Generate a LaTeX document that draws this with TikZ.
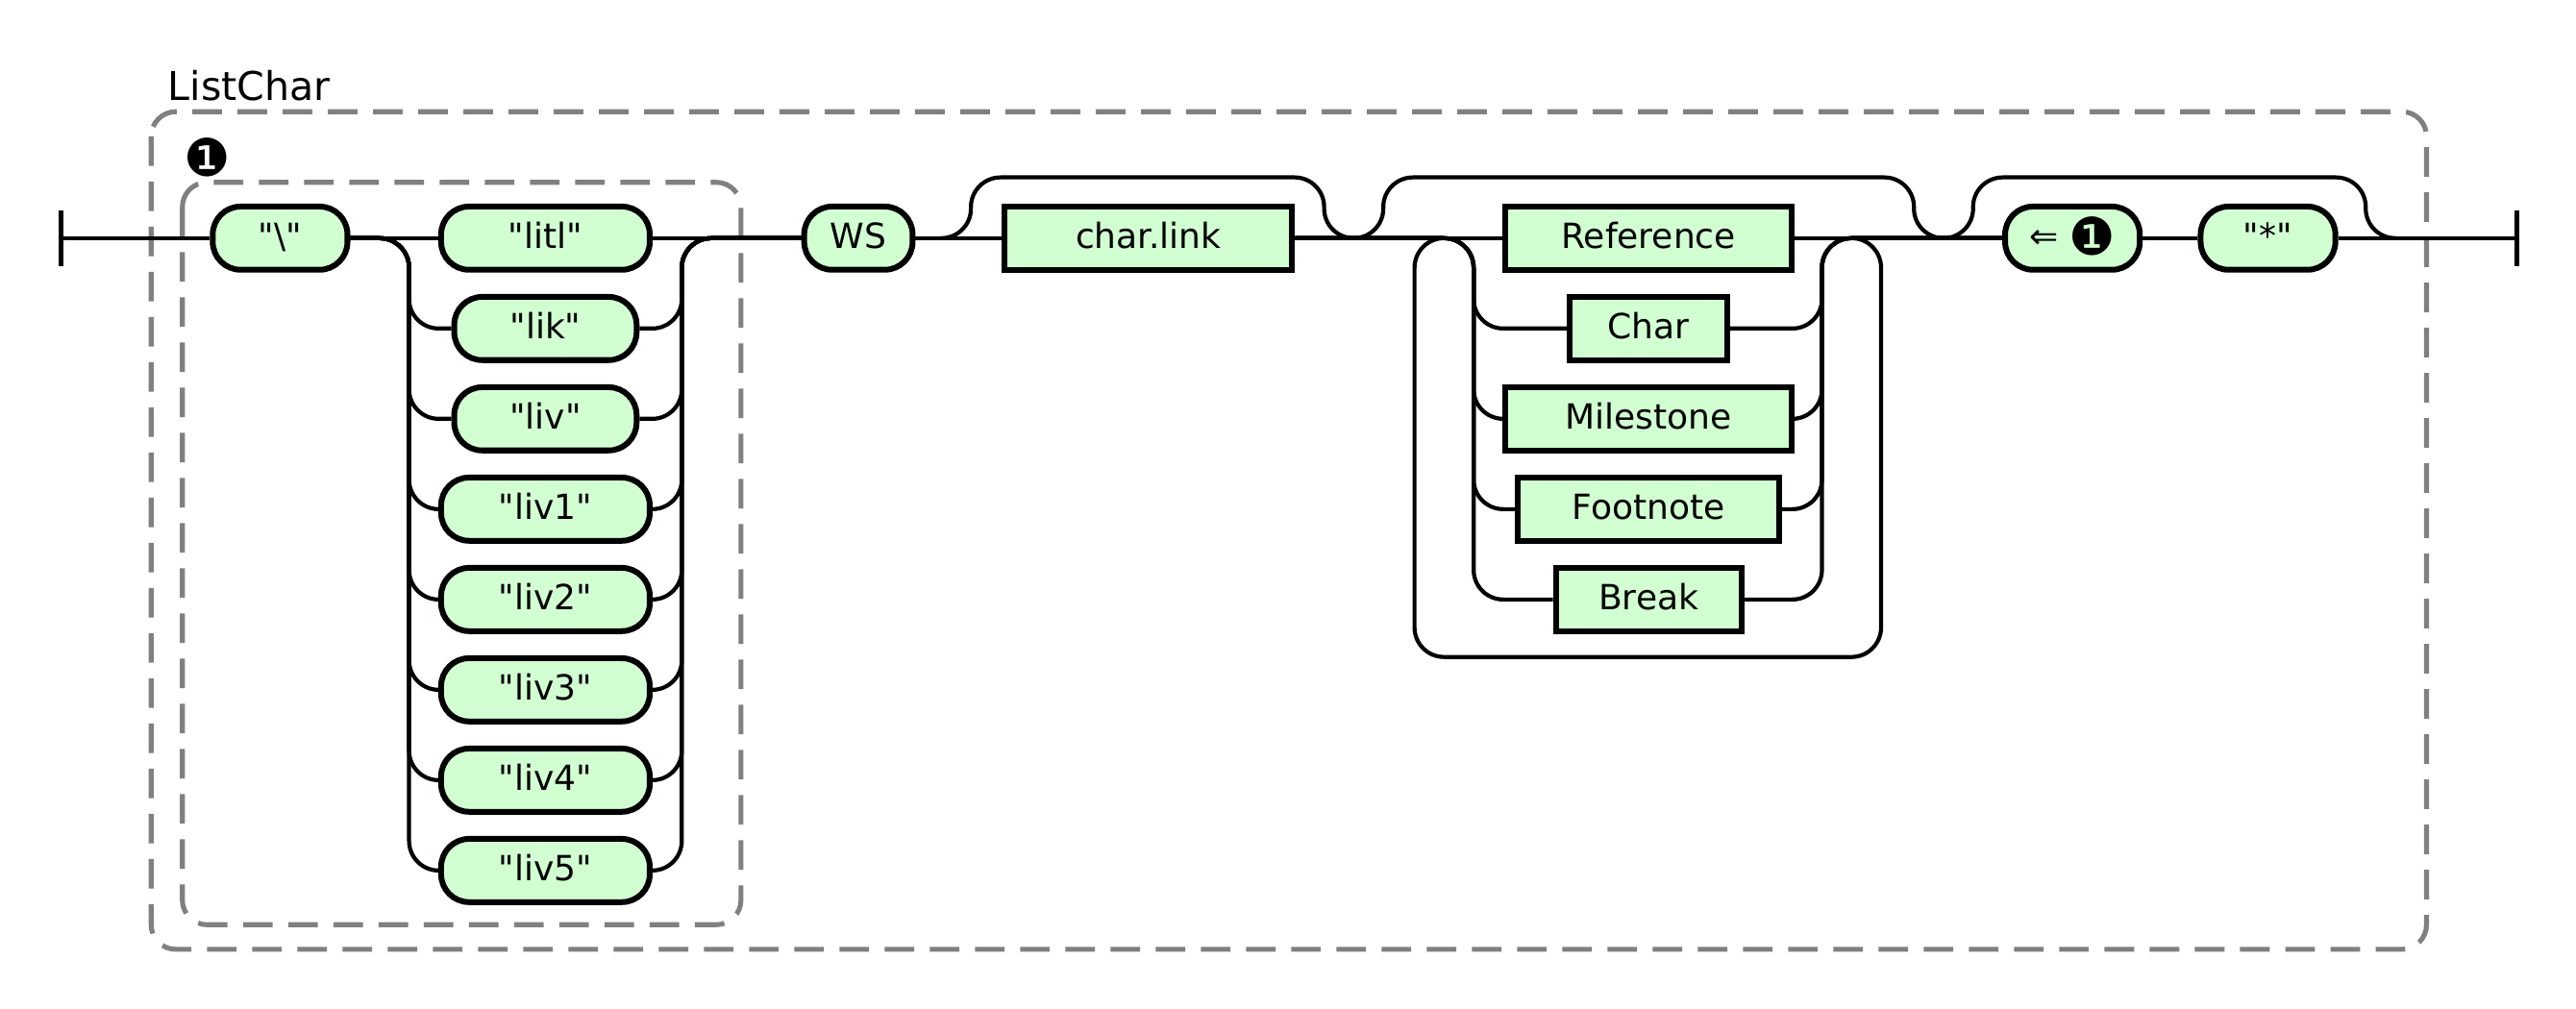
\documentclass[tikz,border=0pt]{standalone}
\usepackage{fontspec}
\setmainfont{DejaVu Sans}[Ligatures=TeXOff]
\definecolor{rrgreen}{RGB}{210,255,210}
\definecolor{rrgray}{RGB}{128,128,128}
\newcommand{\rrmark}{{\fontsize{18pt}{18pt}\selectfont ❶}}
\begin{document}
\begin{tikzpicture}[
  x=0.2mm, y=-0.2mm,
  font=\fontsize{12pt}{14pt}\selectfont,
  term/.style={draw, line width=2pt, fill=rrgreen, rounded corners=3.4mm, minimum height=7.7mm, inner sep=0pt, text height=0.73em, text depth=0pt},
  nterm/.style={draw, line width=2pt, fill=rrgreen, minimum height=7.7mm, inner sep=0pt, text height=0.73em, text depth=0pt},
  wd/.style={minimum width=#1*0.2mm},
  rail/.style={line width=1.4pt, rounded corners=3.6mm},
  bar/.style={line width=1.7pt},
  group/.style={draw=rrgray, line width=1.7pt, dash pattern=on 3.6mm off 1.9mm, rounded corners=3mm}
]
\useasboundingbox (0,0) rectangle (1568,614);

\draw[group] (92,68) rectangle (1477,578);
\draw[group] (111,111) rectangle (451,563);
\node[font=\fontsize{13.7pt}{16pt}\selectfont, anchor=base west, inner sep=0pt] (title) at (102,61) {ListChar};
\node[inner sep=0pt] (mark) at (126,96) {\rrmark};

\node[term, wd=82] (bs) at (170.5,145) {"\textbackslash"};
\node[term, wd=127] (litl) at (332,145) {"litl"};
\node[term, wd=111] (lik) at (332,200) {"lik"};
\node[term, wd=111] (liv) at (332,255) {"liv"};
\node[term, wd=127] (liv1) at (332,310) {"liv1"};
\node[term, wd=127] (liv2) at (332,365) {"liv2"};
\node[term, wd=127] (liv3) at (332,420) {"liv3"};
\node[term, wd=127] (liv4) at (332,475) {"liv4"};
\node[term, wd=127] (liv5) at (332,530) {"liv5"};
\node[term, wd=66] (ws) at (522.5,145) {WS};
\node[nterm, wd=175] (link) at (699,145) {char.link};
\node[nterm, wd=174] (ref) at (1003.5,145) {Reference};
\node[nterm, wd=96] (char) at (1003.5,200) {Char};
\node[nterm, wd=174] (mile) at (1003.5,255) {Milestone};
\node[nterm, wd=159] (foot) at (1003.5,310) {Footnote};
\node[nterm, wd=113] (brk) at (1003.5,365) {Break};
\node[term, wd=82] (back) at (1261.5,145) {⇐ \raisebox{-0.8mm}{\rrmark}};
\node[term, wd=82] (star) at (1380.5,145) {"*"};

\coordinate (st) at (37,145);
\coordinate (en) at (1532,145);
\coordinate (c1l) at (249,145);
\coordinate (c1r) at (415,145);
\coordinate (j1) at (573,145);
\coordinate (j2) at (824,145);
\coordinate (c2l) at (897,145);
\coordinate (c2r) at (1109,145);
\coordinate (lp) at (1127,145);
\coordinate (j3) at (1183,145);
\coordinate (j4) at (1458,145);

\draw[bar] (st) ++(0,-17) -- ++(0,34);
\draw[bar] (en) ++(0,-17) -- ++(0,34);

\draw[rail] (st) -- (bs);
\draw[rail] (bs) -- (litl);
\draw[rail] (litl) -- (ws);
\draw[rail] (ws) -- (link);
\draw[rail] (link) -- (ref);
\draw[rail] (ref) -- (back);
\draw[rail] (back) -- (star);
\draw[rail] (star) -- (en);

\draw[rail] (bs.east) -- (c1l) |- (lik.west);
\draw[rail] (bs.east) -- (c1l) |- (liv.west);
\draw[rail] (bs.east) -- (c1l) |- (liv1.west);
\draw[rail] (bs.east) -- (c1l) |- (liv2.west);
\draw[rail] (bs.east) -- (c1l) |- (liv3.west);
\draw[rail] (bs.east) -- (c1l) |- (liv4.west);
\draw[rail] (bs.east) -- (c1l) |- (liv5.west);
\draw[rail] (lik.east) -| (c1r) -- (ws.west);
\draw[rail] (liv.east) -| (c1r) -- (ws.west);
\draw[rail] (liv1.east) -| (c1r) -- (ws.west);
\draw[rail] (liv2.east) -| (c1r) -- (ws.west);
\draw[rail] (liv3.east) -| (c1r) -- (ws.west);
\draw[rail] (liv4.east) -| (c1r) -- (ws.west);
\draw[rail] (liv5.east) -| (c1r) -- (ws.west);

\draw[rail] (j1) -| ++(18,-37) -| ++(215,37) -- (j2);

\draw[rail] (j2) -| ++(18,-37) -| ++(323,37) -- (j3);
\draw[rail] (link.east) -- (c2l) |- (char.west);
\draw[rail] (link.east) -- (c2l) |- (mile.west);
\draw[rail] (link.east) -- (c2l) |- (foot.west);
\draw[rail] (link.east) -- (c2l) |- (brk.west);
\draw[rail] (char.east) -| (c2r) -- (back.west);
\draw[rail] (mile.east) -| (c2r) -- (back.west);
\draw[rail] (foot.east) -| (c2r) -- (back.west);
\draw[rail] (brk.east) -| (c2r) -- (back.west);
\draw[rail] (lp) -| ++(18,255) -| ++(-284,-255) -- ++(18,0);

\draw[rail] (j3) -| ++(18,-37) -| ++(239,37) -- (j4);
\end{tikzpicture}
\end{document}
